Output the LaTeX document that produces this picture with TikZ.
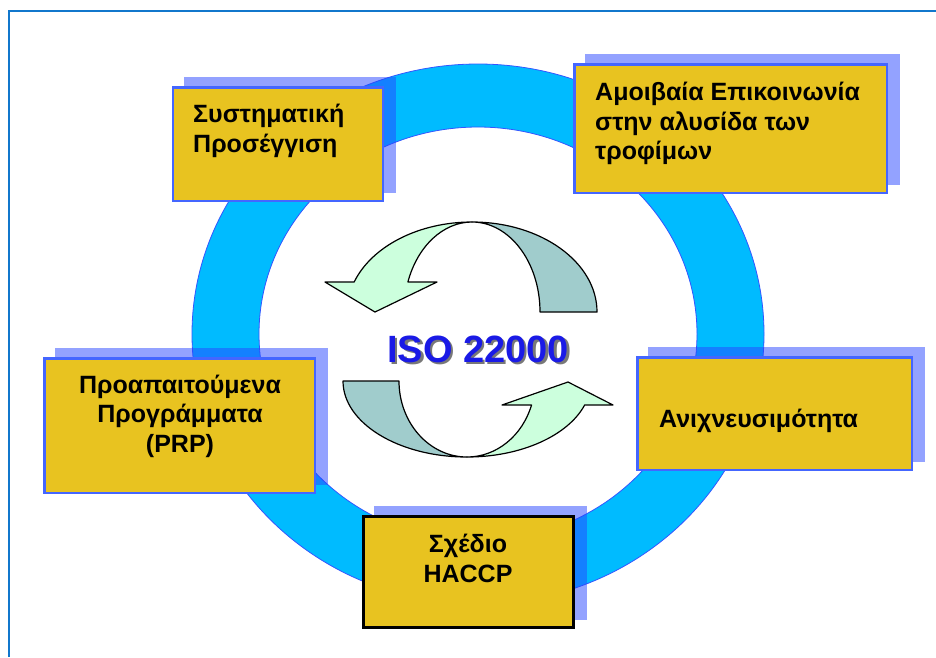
\documentclass[tikz,border=0pt]{standalone}
\usepackage{fontspec}
\setmainfont{Liberation Sans}
\usetikzlibrary{calc}

\definecolor{ringfill}{RGB}{0,187,255}
\definecolor{ringedge}{RGB}{51,85,255}
\definecolor{shadeblue}{RGB}{40,70,255}
\definecolor{boxfill}{RGB}{232,195,32}
\definecolor{boxedge}{RGB}{68,102,255}
\definecolor{arrlightc}{RGB}{204,255,221}
\definecolor{arrdarkc}{RGB}{160,204,204}
\definecolor{isoblue}{RGB}{26,26,230}
\definecolor{isoshade}{RGB}{120,120,120}
\definecolor{framecol}{RGB}{17,119,204}

\tikzset{
  frameline/.style={draw=framecol, line width=2.5pt},
  ringband/.style={fill=ringfill, draw=ringedge, line width=0.8pt, even odd rule},
  boxshade/.style={fill=shadeblue, fill opacity=0.5},
  goldbox/.style={rectangle, fill=boxfill, draw=boxedge, line width=2.5pt, inner sep=0pt},
  goldboxdark/.style={goldbox, draw=black, line width=3pt},
  lbl/.style={inner sep=0pt, text=black, font=\bfseries\fontsize{25}{29}\selectfont},
  arrlight/.style={fill=arrlightc, draw=black, line width=1.2pt, line join=round},
  arrdark/.style={fill=arrdarkc, draw=black, line width=1.2pt, line join=round},
  isotext/.style={inner sep=0pt, font=\bfseries\fontsize{38}{44}\selectfont}
}
% title text with a soft offset shadow behind it
\newcommand{\shadedtitle}[1]{\rlap{\kern2.5pt\raisebox{-2.5pt}{\textcolor{isoshade}{#1}}}\textcolor{isoblue}{#1}}

\begin{document}
\begin{tikzpicture}[x=1pt, y=-1pt]
\useasboundingbox (0,0) rectangle (936,657);

% outer frame (top and left rules)
\draw[frameline] (9,657) -- (9,11) -- (936,11);

% the cycle ring
\path[ringband] (478,334) ellipse [x radius=286, y radius=270]
                (478,334) ellipse [x radius=219, y radius=207];

% drop shadows of the boxes
\fill[boxshade] (184,77) rectangle (396,193);
\fill[boxshade] (585,54) rectangle (900,185);
\fill[boxshade] (55,348) rectangle (328,485);
\fill[boxshade] (648,347) rectangle (925,462);
\fill[boxshade] (374,506) rectangle (587,620);

% boxes
\node[goldbox, minimum width=210pt, minimum height=113.5pt] (sys) at (278,144) {};
\node[goldbox, minimum width=312.5pt, minimum height=128.5pt] (comm) at (730.5,128.5) {};
\node[goldbox, minimum width=270.5pt, minimum height=134.5pt] (prp) at (179.5,425.5) {};
\node[goldbox, minimum width=274.5pt, minimum height=112.5pt] (trace) at (774.5,413.5) {};
\node[goldboxdark, minimum width=210pt, minimum height=111pt] (haccp) at (468.5,572) {};

% box texts
\node[lbl, anchor=base west] (sys1) at (193,122) {Συστηματική};
\node[lbl, anchor=base west] (sys2) at (193,152) {Προσέγγιση};

\node[lbl, anchor=base west] (comm1) at (595,100) {Αμοιβαία Επικοινωνία};
\node[lbl, anchor=base west] (comm2) at (595,130) {στην αλυσίδα των};
\node[lbl, anchor=base west] (comm3) at (595,159) {τροφίμων};

\node[lbl, anchor=base] (prp1) at (180,393) {Προαπαιτούμενα};
\node[lbl, anchor=base] (prp2) at (180,422) {Προγράμματα};
\node[lbl, anchor=base] (prp3) at (180,452) {(PRP)};

\node[lbl, anchor=base west] (trace1) at (659,427) {Ανιχνευσιμότητα};

\node[lbl, anchor=base] (haccp1) at (468,552) {Σχέδιο};
\node[lbl, anchor=base] (haccp2) at (468,582) {HACCP};

% upper twisted arrow
\coordinate (uc) at (472,312);
\path[arrdark] ($(uc)+(270:125 and 90)$)
  arc[start angle=270, end angle=360, x radius=125, y radius=90]
  -- ($(uc)+(0:68 and 90)$)
  arc[start angle=360, end angle=270, x radius=68, y radius=90] -- cycle;
\path[arrlight] ($(uc)+(199.5:68 and 90)$) -- (437,282) -- (375,312) -- (325,282)
  -- ($(uc)+(199.5:125 and 90)$)
  arc[start angle=199.5, end angle=270, x radius=125, y radius=90]
  arc[start angle=270, end angle=199.5, x radius=68, y radius=90] -- cycle;

% lower twisted arrow
\coordinate (lc) at (467,381);
\path[arrdark] ($(lc)+(180:124 and 76)$)
  arc[start angle=180, end angle=90, x radius=124, y radius=76]
  arc[start angle=90, end angle=180, x radius=68, y radius=76] -- cycle;
\path[arrlight] ($(lc)+(18.4:124 and 76)$) -- (613,405) -- (568,382) -- (502,405)
  -- ($(lc)+(18.4:68 and 76)$)
  arc[start angle=18.4, end angle=90, x radius=68, y radius=76]
  arc[start angle=90, end angle=18.4, x radius=124, y radius=76] -- cycle;

% centre title
\node[isotext, anchor=base] (iso) at (478,362) {\shadedtitle{ISO 22000}};
\end{tikzpicture}
\end{document}
